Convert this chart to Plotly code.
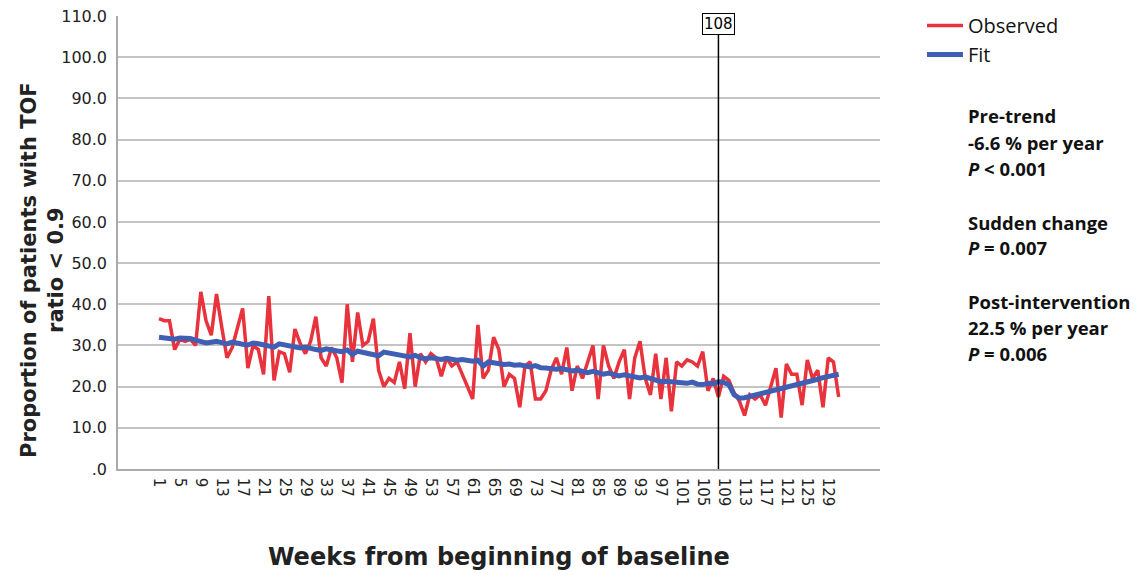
import plotly.graph_objects as go

weeks = list(range(1, 132))

observed = [
    36.5, 36.0, 36.0, 29.0, 31.5, 31.0, 31.5, 30.0, 43.0, 36.0,
    32.5, 42.5, 34.5, 27.0, 29.5, 34.0, 39.0, 24.5, 30.0, 29.0,
    23.0, 42.0, 21.5, 28.5, 28.0, 23.5, 34.0, 30.5, 28.0, 31.0,
    37.0, 27.0, 25.0, 29.5, 27.0, 21.0, 40.0, 26.0, 38.0, 30.0,
    31.0, 36.5, 24.0, 20.0, 22.0, 21.0, 26.0, 19.5, 33.0, 20.0,
    28.0, 26.0, 28.0, 27.0, 22.5, 27.0, 25.0, 26.0, 23.0, 20.0,
    17.0, 35.0, 22.0, 24.0, 32.0, 29.0, 20.0, 23.0, 22.0, 15.0,
    25.0, 26.0, 17.0, 17.0, 19.0, 24.0, 27.0, 23.0, 29.5, 19.0,
    25.0, 22.0, 26.0, 30.0, 17.0, 30.0, 25.0, 22.0, 26.0, 29.0,
    17.0, 27.0, 31.0, 22.0, 18.0, 28.0, 17.0, 27.0, 14.0, 26.0,
    25.0, 26.5, 26.0, 25.0, 28.5, 19.0, 22.0, 17.5, 22.5, 21.5,
    18.5, 16.5, 13.0, 18.0, 17.0, 18.0, 15.5, 20.0, 24.5, 12.5,
    25.5, 23.0, 23.0, 15.5, 26.5, 22.0, 24.0, 15.0, 27.0, 26.0,
    17.5,
]

fit = [
    32.0, 31.8, 31.7, 31.5, 31.8, 31.9, 31.7, 31.3, 31.0, 30.6,
    30.8, 31.0, 30.7, 30.4, 30.8, 30.7, 30.3, 30.1, 30.6, 30.4,
    30.2, 29.8, 29.6, 30.4, 30.1, 29.8, 29.6, 29.4, 29.6, 29.2,
    29.0, 28.8, 29.2, 28.9, 28.7, 28.5, 28.9, 27.8, 28.6, 28.3,
    28.1, 27.7, 27.5, 28.4, 28.2, 28.0, 27.8, 27.4, 27.2, 27.6,
    27.0, 26.8, 27.0, 26.8, 26.6, 26.9, 26.5, 26.4, 26.6, 26.3,
    26.2, 26.4, 25.0, 26.0, 25.7, 25.6, 25.4, 25.5, 25.2, 25.3,
    25.0, 24.8, 25.1, 24.6, 24.5, 24.3, 24.2, 24.4, 24.0, 23.8,
    24.0, 23.6, 23.4, 23.7, 23.2, 23.0, 23.3, 22.8, 22.6, 22.9,
    22.7, 22.3, 22.1, 22.4, 22.0, 21.6, 21.2, 21.3, 21.1, 21.0,
    21.0, 20.8, 21.1, 20.6, 20.5, 20.8, 20.7, 21.2, 21.0, 20.5,
    18.0, 17.2, 17.3, 17.6, 17.9, 18.3, 18.6, 18.9, 19.2, 19.6,
    19.9, 20.2, 20.5, 20.9, 21.2, 21.5, 21.8, 22.2, 22.5, 22.8,
    23.0,
]

x_tick_vals = [1, 5, 9, 13, 17, 21, 25, 29, 33, 37, 41, 45, 49, 53, 57, 61, 65,
               69, 73, 77, 81, 85, 89, 93, 97, 101, 105, 109, 113, 117, 121, 125, 129]
x_tick_labels = [str(v) for v in x_tick_vals]

y_tick_vals = [0, 10, 20, 30, 40, 50, 60, 70, 80, 90, 100, 110]
y_tick_labels = [".0", "10.0", "20.0", "30.0", "40.0", "50.0", "60.0",
                 "70.0", "80.0", "90.0", "100.0", "110.0"]

intervention_week = 108

stats_lines = [
    ("<b>Pre-trend</b>", 115),
    ("<b>-6.6 % per year</b>", 142),
    ("<b><i>P</i> < 0.001</b>", 168),
    ("<b>Sudden change</b>", 222),
    ("<b><i>P</i> = 0.007</b>", 248),
    ("<b>Post-intervention</b>", 301),
    ("<b>22.5 % per year</b>", 327),
    ("<b><i>P</i> = 0.006</b>", 353),
]

RED = "#e8323c"
BLUE = "#3f5fb4"

fig = go.Figure()
fig.add_trace(go.Scatter(x=weeks, y=observed, mode="lines", name="Observed",
                         line=dict(color=RED, width=3.5)))
fig.add_trace(go.Scatter(x=weeks, y=fit, mode="lines", name="Fit",
                         line=dict(color=BLUE, width=5)))

L, R, T, B = 118, 262, 16, 106
W, H = 1142, 575
plot_w = W - L - R
plot_h = H - T - B

fig.update_layout(
    width=W, height=H,
    margin=dict(l=L, r=R, t=T, b=B, pad=0, autoexpand=False),
    paper_bgcolor="white", plot_bgcolor="white",
    font=dict(family="DejaVu Sans", color="#222222"),
    showlegend=True,
    legend=dict(x=(922 - L) / plot_w, y=1 - (6 - T) / plot_h, xanchor="left", yanchor="top",
                font=dict(family="Open Sans", size=20, color="#111111"),
                bgcolor="rgba(0,0,0,0)", tracegroupgap=0, itemwidth=36),
    xaxis=dict(
        range=[-6.84, 138.9], tickmode="array", tickvals=x_tick_vals,
        ticktext=x_tick_labels, tickangle=90, showgrid=False, zeroline=False,
        showline=True, linecolor="#aaaaaa", linewidth=1.5,
        tickfont=dict(family="DejaVu Sans", size=15, color="#222222"),
        ticks="", ticklabelstandoff=4,
    ),
    yaxis=dict(
        range=[0, 110], tickmode="array", tickvals=y_tick_vals,
        ticktext=y_tick_labels, showgrid=True, gridcolor="#c4c4c4",
        gridwidth=1.5, zeroline=False, showline=True, linecolor="#aaaaaa",
        linewidth=1.5, tickfont=dict(family="DejaVu Sans", size=16, color="#222222"),
        ticks="", ticklabelstandoff=6,
    ),
)

# vertical intervention line
fig.add_shape(type="line", xref="x", yref="paper", x0=intervention_week,
              x1=intervention_week, y0=0, y1=1, line=dict(color="black", width=1.5))
fig.add_annotation(x=intervention_week, xref="x", y=1 - (24 - T) / plot_h, yref="paper",
                   text=str(intervention_week), showarrow=False,
                   xanchor="center", yanchor="middle",
                   font=dict(family="DejaVu Sans", size=15, color="black"),
                   bgcolor="white", bordercolor="black", borderwidth=1, borderpad=1)

# axis titles
fig.add_annotation(x=(42 - L) / plot_w, xref="paper", y=(469 - 270) / plot_h, yref="paper",
                   showarrow=False,
                   text="<b>Proportion of patients with TOF<br>ratio < 0.9</b>",
                   textangle=-90, xanchor="center", yanchor="middle",
                   font=dict(family="DejaVu Sans", size=21, color="#222222"))
fig.add_annotation(x=0.5, xref="paper", y=(469 - 557) / plot_h, yref="paper",
                   showarrow=False, text="<b>Weeks from beginning of baseline</b>",
                   font=dict(family="DejaVu Sans", size=24, color="#222222"),
                   xanchor="center", yanchor="middle")

for txt, ypx in stats_lines:
    fig.add_annotation(x=(966 - L) / plot_w, xref="paper",
                       y=(469 - ypx) / plot_h, yref="paper", showarrow=False,
                       text=txt, xanchor="left", yanchor="middle",
                       font=dict(family="Open Sans", size=18.5, color="#111111"))

fig.write_html("out.html")
